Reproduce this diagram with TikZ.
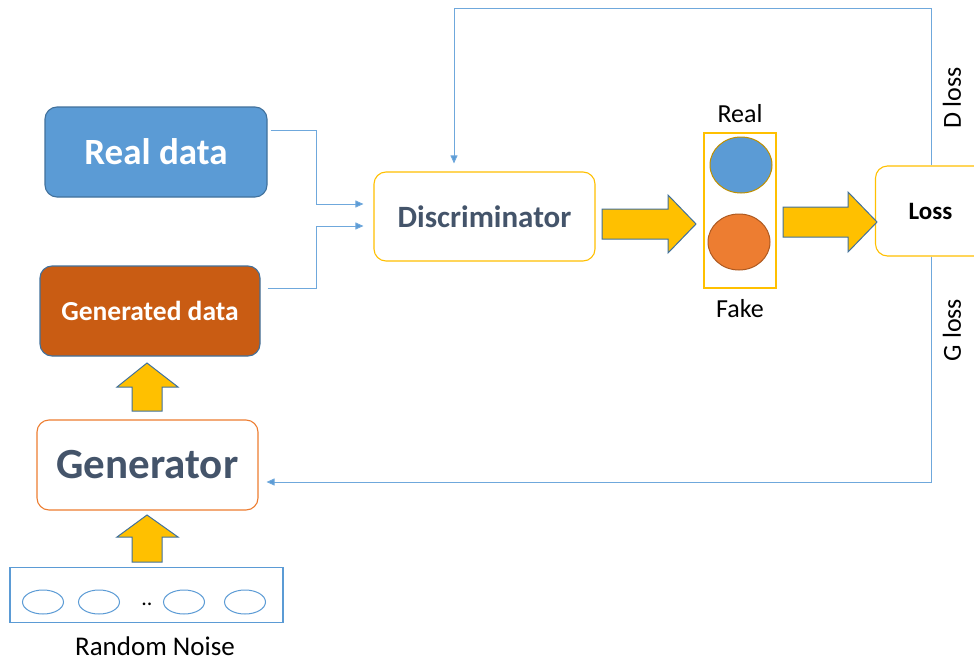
\documentclass[tikz,border=0pt]{standalone}
\usepackage{fontspec}
\setmainfont{Carlito}
\usetikzlibrary{arrows.meta,shapes.geometric}

\definecolor{accblue}{HTML}{5B9BD5}
\definecolor{edgeblue}{HTML}{41719C}
\definecolor{linkblue}{HTML}{6FA8DC}
\definecolor{burnt}{HTML}{C95C13}
\definecolor{gold}{HTML}{FFC000}
\definecolor{darkgold}{HTML}{BF9000}
\definecolor{accorange}{HTML}{ED7D31}
\definecolor{darkorange}{HTML}{AE5A21}
\definecolor{slate}{HTML}{44546A}

\tikzset{
  box/.style={rectangle, rounded corners=12pt, line width=1.1pt, align=center, inner sep=0pt},
  conn/.style={draw=linkblue, line width=0.9pt, -{Triangle[length=8pt,width=7pt,fill=accblue]}},
  blockarrow/.style={fill=gold, draw=edgeblue, line width=1pt, line join=miter},
  lbl/.style={font=\fontsize{26}{26}\selectfont, text=black, inner sep=0pt},
}

\begin{document}
\begin{tikzpicture}[x=1pt, y=-1pt]
\useasboundingbox (0,0) rectangle (974,661);
\clip (0,0) rectangle (974,661);
\fill[white] (0,0) rectangle (974,661);

% data sources
\node[box, fill=accblue, draw=edgeblue, minimum width=222pt, minimum height=90pt,
      font=\bfseries\fontsize{37}{37}\selectfont, text=white] (real) at (156,152) {Real data};
\node[box, fill=burnt, draw=edgeblue, minimum width=220pt, minimum height=90pt,
      font=\bfseries\fontsize{27.5}{27.5}\selectfont, text=white] (gendata) at (150,311) {Generated data};

% discriminator
\node[box, fill=white, draw=gold, minimum width=221pt, minimum height=89pt,
      font=\bfseries\fontsize{31}{31}\selectfont, text=slate] (disc) at (484.5,216.5) {Discriminator};

% generator
\node[box, fill=white, draw=accorange, minimum width=221pt, minimum height=90pt,
      font=\bfseries\fontsize{43}{43}\selectfont, text=slate] (generator) at (147.5,465) {Generator};

% random noise input vector
\node[rectangle, draw=accblue, line width=1.1pt, minimum width=273pt, minimum height=55pt] (noise) at (146.5,595) {};
\foreach \cx/\nm in {43/n1, 99/n2, 184/n3, 245/n4}
  \node[ellipse, draw=accblue, line width=1pt, minimum width=41pt, minimum height=24pt, inner sep=0pt] (\nm) at (\cx,602) {};
\node[font=\fontsize{22}{22}\selectfont, inner sep=0pt] (dots) at (147,604) {..};
\node[lbl, font=\fontsize{27}{27}\selectfont] (noiselbl) at (155,646) {Random Noise};

% real / fake decision
\node[rectangle, draw=gold, line width=1.1pt, minimum width=72pt, minimum height=155pt] (decision) at (740,210.5) {};
\node[ellipse, fill=accblue, draw=darkgold, line width=1pt, minimum width=62pt, minimum height=56pt, inner sep=0pt] (realdot) at (741,165) {};
\node[ellipse, fill=accorange, draw=darkorange, line width=1pt, minimum width=62pt, minimum height=56pt, inner sep=0pt] (fakedot) at (739,242) {};
\node[lbl] (reallbl) at (740,114) {Real};
\node[lbl] (fakelbl) at (740,309) {Fake};

% loss
\node[box, fill=white, draw=gold, minimum width=112pt, minimum height=90pt,
      font=\bfseries\fontsize{25}{25}\selectfont, text=black] (loss) at (931.5,211) {\hspace*{-2pt}Loss};

% block arrows
\draw[blockarrow] (602,209) -- (668,209) -- (668,195) -- (696,224) -- (668,253) -- (668,239) -- (602,239) -- cycle;
\draw[blockarrow] (783,207) -- (848,207) -- (848,192) -- (877,222) -- (848,252) -- (848,237) -- (783,237) -- cycle;
\draw[blockarrow] (132,411) -- (132,387) -- (117,387) -- (147,363) -- (178,387) -- (162,387) -- (162,411) -- cycle;
\draw[blockarrow] (132,562) -- (132,537) -- (117,537) -- (147,515) -- (178,537) -- (162,537) -- (162,562) -- cycle;

% data into the discriminator
\draw[conn] ([xshift=3pt,yshift=22pt]real.east) -- ++(46,0) |- ([xshift=-10pt,yshift=12.5pt]disc.west);
\draw[conn] ([xshift=7pt,yshift=23pt]gendata.east) -- ++(49,0) |- ([xshift=-10pt,yshift=-9.5pt]disc.west);

% loss feedback
\coordinate (dturn) at (931,8);
\draw[conn] (loss.north -| dturn) -- (dturn) -| ([xshift=-30.5pt,yshift=8pt]disc.north);
\coordinate (gturn) at (931,482);
\draw[conn] (loss.south -| gturn) -- (gturn) -- ([xshift=8pt,yshift=-17pt]generator.east);

\node[lbl, rotate=90] (dloss) at (952,98) {D loss};
\node[lbl, rotate=90] (gloss) at (952,330) {G loss};
\end{tikzpicture}
\end{document}
